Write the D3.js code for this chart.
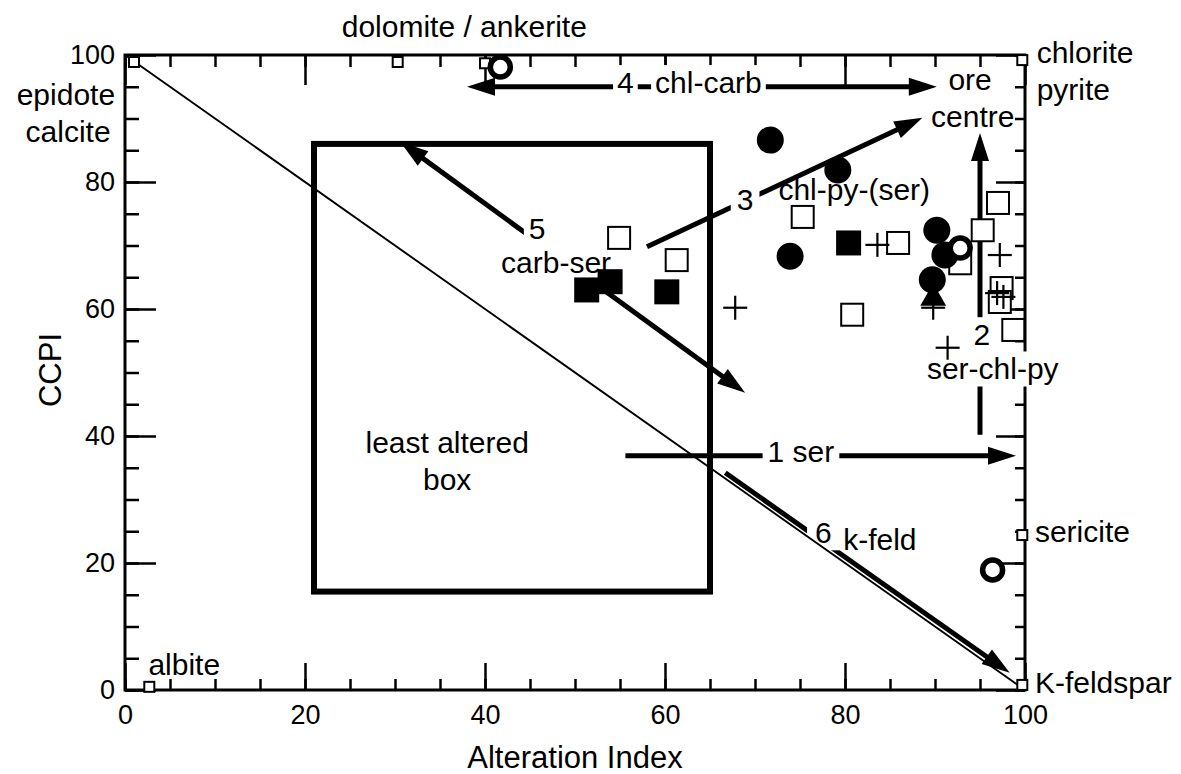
<!DOCTYPE html>
<html>
<head>
<meta charset="utf-8">
<script src="https://cdn.jsdelivr.net/npm/d3@7"></script>
<style>
  body { margin: 0; background: #fff; }
  text { font-family: "Liberation Sans", Arial, Helvetica, sans-serif; fill: #000; }
</style>
</head>
<body>
<div id="chart"></div>
<script>
// values: Alteration Index (x) vs CCPI (y)
const xTicks = [0, 20, 40, 60, 80, 100];
const yTicks = [0, 20, 40, 60, 80, 100];

const filledCircles = [[71.7, 86.6], [79.2, 81.9], [73.9, 68.3], [90.2, 72.4], [91.1, 68.5], [89.7, 64.6]];
const openCircles   = [[41.7, 98.1], [92.8, 69.6], [96.4, 18.9]];
const filledSquares = [[51.3, 63.0], [53.9, 64.3], [60.2, 62.7], [80.4, 70.4]];
const openSquares   = [[54.9, 71.2], [61.3, 67.7], [75.3, 74.5], [85.9, 70.4], [80.8, 59.1], [92.8, 67.2],
                       [95.3, 72.4], [97.0, 76.7], [97.4, 63.3], [97.2, 61.1], [98.7, 56.7]];
const crosses       = [[67.8, 60.2], [83.6, 70.1], [89.8, 60.2], [91.4, 53.9], [97.2, 68.5], [96.9, 62.5], [97.6, 61.9]];
const triangles     = [[89.8, 61.7]];

// end-member minerals (small squares)
const minerals = [[1.0, 98.9], [30.3, 98.9], [40.0, 98.7], [99.7, 99.2], [99.7, 24.4], [99.7, 0.8], [2.7, 0.5]];

// alteration trend arrows
const arrows = [
  { from: [55.6, 36.9], to: [99.0, 36.9], both: false },
  { from: [95.0, 40.2], to: [95.0, 87.7], both: false },
  { from: [58.0, 69.8], to: [88.6, 90.1], both: false },
  { from: [38.0, 95.0], to: [90.2, 95.0], both: true },
  { from: [30.6, 86.3], to: [68.9, 46.8], both: true },
  { from: [66.7, 34.2], to: [98.3, 2.7],  both: false }
];

// least altered box [xmin, xmax, ymin, ymax]
const leastAltered = [21, 65, 15.5, 86];

var W = 1181, H = 774;
var x = d3.scaleLinear().domain([0, 100]).range([125, 1025]);
var y = d3.scaleLinear().domain([0, 100]).range([690, 55]);

var svg = d3.select("#chart").append("svg")
    .attr("width", W)
    .attr("height", H);

svg.append("rect").attr("width", W).attr("height", H).attr("fill", "#fff");

var gAxes = svg.append("g");
var gLines = svg.append("g");
var gBg = svg.append("g");
var gDiag = svg.append("g");
var gText = svg.append("g");
var gMarks = svg.append("g");

// axes, all ticks pointing inwards
function styleAxis(g) {
  g.select(".domain").remove();
  g.attr("font-size", 27).attr("font-family", '"Liberation Sans", Arial, sans-serif');
  g.selectAll(".tick line").attr("stroke", "#000").attr("stroke-width", 2.5);
  g.selectAll(".tick text").attr("fill", "#000");
}

gAxes.append("g").attr("transform", "translate(0," + y(0) + ")")
    .call(d3.axisBottom(x).tickValues(xTicks).tickSize(-27).tickPadding(15)).call(styleAxis);
gAxes.append("g").attr("transform", "translate(0," + y(0) + ")")
    .call(d3.axisBottom(x).ticks(20).tickSize(-11).tickFormat("")).call(styleAxis);
gAxes.append("g").attr("transform", "translate(0," + y(100) + ")")
    .call(d3.axisTop(x).tickValues(xTicks).tickSize(-30).tickFormat("")).call(styleAxis);
gAxes.append("g").attr("transform", "translate(0," + y(100) + ")")
    .call(d3.axisTop(x).ticks(20).tickSize(-12).tickFormat("")).call(styleAxis);
gAxes.append("g").attr("transform", "translate(" + x(0) + ",0)")
    .call(d3.axisLeft(y).tickValues(yTicks).tickSize(-31).tickPadding(10)).call(styleAxis);
gAxes.append("g").attr("transform", "translate(" + x(0) + ",0)")
    .call(d3.axisLeft(y).ticks(20).tickSize(-14).tickFormat("")).call(styleAxis);
gAxes.append("g").attr("transform", "translate(" + x(100) + ",0)")
    .call(d3.axisRight(y).tickValues(yTicks).tickSize(-29).tickFormat("")).call(styleAxis);
gAxes.append("g").attr("transform", "translate(" + x(100) + ",0)")
    .call(d3.axisRight(y).ticks(20).tickSize(-10).tickFormat("")).call(styleAxis);

// frame
gAxes.append("rect")
    .attr("x", x(0)).attr("y", y(100))
    .attr("width", x(100) - x(0)).attr("height", y(0) - y(100))
    .attr("fill", "none").attr("stroke", "#000").attr("stroke-width", 3);

// axis titles
svg.append("text")
    .attr("x", (x(0) + x(100)) / 2).attr("y", 768)
    .attr("text-anchor", "middle").attr("font-size", 31)
    .text("Alteration Index");
svg.append("text")
    .attr("transform", "translate(61," + 370 + ") rotate(-90)")
    .attr("text-anchor", "middle").attr("font-size", 31)
    .text("CCPI");

// least altered box
gLines.append("rect")
    .attr("x", x(leastAltered[0])).attr("y", y(leastAltered[3]))
    .attr("width", x(leastAltered[1]) - x(leastAltered[0]))
    .attr("height", y(leastAltered[2]) - y(leastAltered[3]))
    .attr("fill", "none").attr("stroke", "#000").attr("stroke-width", 6);

// arrows with filled heads
var headLen = 28, headHalf = 9;
function head(tip, tail) {
  var a = Math.atan2(tip[1] - tail[1], tip[0] - tail[0]);
  var bx = tip[0] - headLen * Math.cos(a), by = tip[1] - headLen * Math.sin(a);
  var px = -Math.sin(a) * headHalf, py = Math.cos(a) * headHalf;
  gLines.append("path")
      .attr("d", "M" + tip[0] + "," + tip[1] + "L" + (bx + px) + "," + (by + py) + "L" + (bx - px) + "," + (by - py) + "Z")
      .attr("fill", "#000");
}
function shorten(p, q, d) {
  var len = Math.hypot(q[0] - p[0], q[1] - p[1]);
  return [p[0] + (q[0] - p[0]) * d / len, p[1] + (q[1] - p[1]) * d / len];
}
arrows.forEach(function(a) {
  var p0 = [x(a.from[0]), y(a.from[1])];
  var p1 = [x(a.to[0]), y(a.to[1])];
  var s = a.both ? shorten(p0, p1, headLen * 0.6) : p0;
  var e = shorten(p1, p0, headLen * 0.6);
  gLines.append("line")
      .attr("x1", s[0]).attr("y1", s[1]).attr("x2", e[0]).attr("y2", e[1])
      .attr("stroke", "#000").attr("stroke-width", 5);
  head(p1, p0);
  if (a.both) head(p0, p1);
});

// 1:1 diagonal
gDiag.append("line")
    .attr("x1", x(0)).attr("y1", y(100)).attr("x2", x(100)).attr("y2", y(0))
    .attr("stroke", "#000").attr("stroke-width", 1.9);

// annotations
function label(t, xv, yv, anchor, bg, pad) {
  var node = gText.append("text")
      .attr("x", x(xv)).attr("y", y(yv))
      .attr("text-anchor", anchor || "start")
      .attr("font-size", 30)
      .text(t);
  if (bg) {
    var b = node.node().getBBox();
    var p = pad || 4;
    gBg.append("rect")
        .attr("x", b.x - p).attr("y", b.y - 1)
        .attr("width", b.width + 2 * p).attr("height", b.height + 2)
        .attr("fill", "#fff");
  }
}

label("dolomite / ankerite", 37.7, 102.8, "middle");
label("chlorite", 101.3, 98.7);
label("pyrite", 101.3, 92.9);
label("epidote", -1.1, 92.1, "end");
label("calcite", -1.6, 86.3, "end");
label("ore", 93.9, 94.5, "middle");
label("centre", 94.2, 88.7, "middle");
label("sericite", 101.1, 23.3);
label("K-feldspar", 101.1, -0.5);
label("albite", 2.6, 2.4);
label("least altered", 35.8, 37.3, "middle");
label("box", 35.8, 31.5, "middle");
label("1 ser", 71.4, 35.9, "start", true, 5);
label("2", 95.2, 54.3, "middle", true, 6);
label("ser-chl-py", 89.1, 48.9, "start", true, 2);
label("3", 68.9, 75.6, "middle", true, 6);
label("chl-py-(ser)", 72.6, 77.2);
label("4", 55.6, 94.0, "middle", true, 4);
label("chl-carb", 58.9, 94.0, "start", true, 4);
label("5", 45.8, 71.0, "middle", true, 5);
label("carb-ser", 47.9, 65.7, "middle", true, 1);
label("6", 77.6, 23.1, "middle", true, 8);
label("k-feld", 79.8, 22.0);

// data markers
gMarks.selectAll(".mineral").data(minerals).enter().append("rect")
    .attr("class", "mineral")
    .attr("x", function(d) { return x(d[0]) - 5; })
    .attr("y", function(d) { return y(d[1]) - 5; })
    .attr("width", 10).attr("height", 10)
    .attr("fill", "#fff").attr("stroke", "#000").attr("stroke-width", 2);

gMarks.selectAll(".osq").data(openSquares).enter().append("rect")
    .attr("class", "osq")
    .attr("x", function(d) { return x(d[0]) - 11; })
    .attr("y", function(d) { return y(d[1]) - 11; })
    .attr("width", 22).attr("height", 22)
    .attr("fill", "#fff").attr("stroke", "#000").attr("stroke-width", 2);

gMarks.selectAll(".fsq").data(filledSquares).enter().append("rect")
    .attr("class", "fsq")
    .attr("x", function(d) { return x(d[0]) - 12.5; })
    .attr("y", function(d) { return y(d[1]) - 12.5; })
    .attr("width", 25).attr("height", 25)
    .attr("fill", "#000");

gMarks.selectAll(".fci").data(filledCircles).enter().append("circle")
    .attr("class", "fci")
    .attr("cx", function(d) { return x(d[0]); })
    .attr("cy", function(d) { return y(d[1]); })
    .attr("r", 13.5)
    .attr("fill", "#000");

gMarks.selectAll(".oci").data(openCircles).enter().append("circle")
    .attr("class", "oci")
    .attr("cx", function(d) { return x(d[0]); })
    .attr("cy", function(d) { return y(d[1]); })
    .attr("r", 10)
    .attr("fill", "#fff").attr("stroke", "#000").attr("stroke-width", 5.5);

gMarks.selectAll(".tri").data(triangles).enter().append("path")
    .attr("class", "tri")
    .attr("transform", function(d) { return "translate(" + x(d[0]) + "," + y(d[1]) + ")"; })
    .attr("d", d3.symbol(d3.symbolTriangle, 290))
    .attr("fill", "#000");

var cr = gMarks.selectAll(".cross").data(crosses).enter().append("g")
    .attr("class", "cross")
    .attr("transform", function(d) { return "translate(" + x(d[0]) + "," + y(d[1]) + ")"; });
cr.append("line").attr("x1", -12).attr("x2", 12).attr("stroke", "#000").attr("stroke-width", 2.2);
cr.append("line").attr("y1", -12).attr("y2", 12).attr("stroke", "#000").attr("stroke-width", 2.2);
</script>
</body>
</html>
